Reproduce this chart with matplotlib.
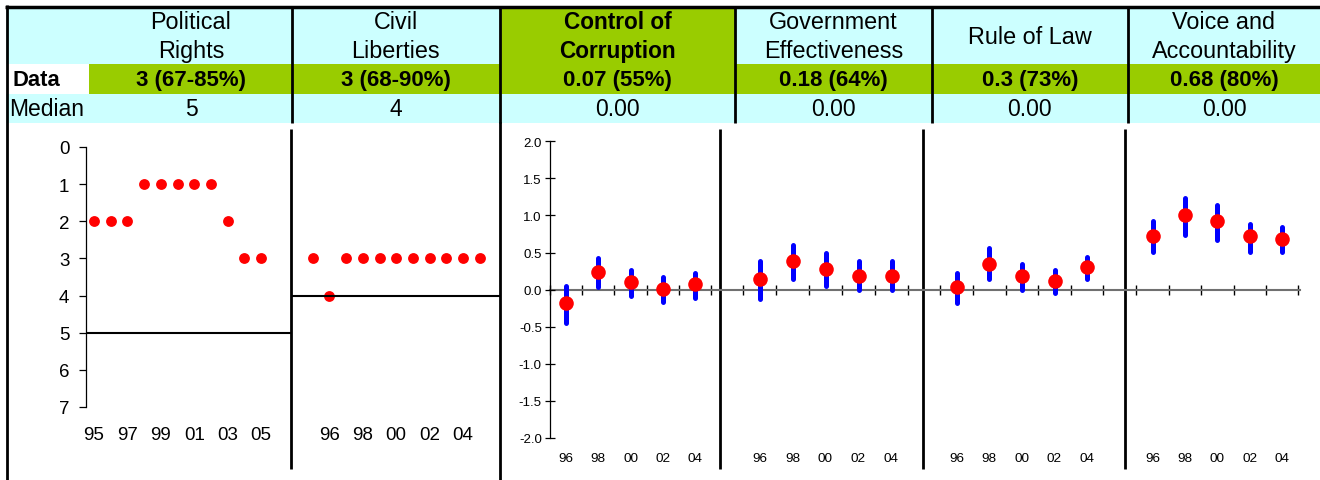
import matplotlib.pyplot as plt
from matplotlib.patches import Rectangle

plt.rcParams['font.family'] = ['Liberation Sans', 'DejaVu Sans']

W, H = 1320, 481

# header table
indicators = ['Political\nRights', 'Civil\nLiberties', 'Control of\nCorruption',
              'Government\nEffectiveness', 'Rule of Law', 'Voice and\nAccountability']
data_labels = ['3 (67-85%)', '3 (68-90%)', '0.07 (55%)', '0.18 (64%)', '0.3 (73%)', '0.68 (80%)']
median_labels = ['5', '4', '0.00', '0.00', '0.00', '0.00']
highlighted = 'Control of\nCorruption'

# Freedom House scores (1 = best, 7 = worst)
fh_years = list(range(1995, 2006))
political_rights = [2, 2, 2, 1, 1, 1, 1, 1, 2, 3, 3]
civil_liberties = [3, 4, 3, 3, 3, 3, 3, 3, 3, 3, 3]
pr_median = 5
cl_median = 4

# governance indicators with confidence ranges
wgi_years = ['96', '98', '00', '02', '04']
cc_est = [-0.18, 0.24, 0.10, 0.01, 0.07]
cc_low = [-0.45, 0.03, -0.09, -0.17, -0.11]
cc_high = [0.05, 0.42, 0.26, 0.17, 0.22]
ge_est = [0.15, 0.38, 0.28, 0.19, 0.18]
ge_low = [-0.13, 0.14, 0.05, 0.00, 0.00]
ge_high = [0.38, 0.60, 0.49, 0.38, 0.38]
rl_est = [0.03, 0.35, 0.19, 0.12, 0.30]
rl_low = [-0.18, 0.14, 0.00, -0.05, 0.14]
rl_high = [0.22, 0.56, 0.35, 0.26, 0.44]
va_est = [0.72, 1.00, 0.93, 0.72, 0.68]
va_low = [0.51, 0.74, 0.67, 0.51, 0.51]
va_high = [0.93, 1.23, 1.14, 0.88, 0.84]

CYAN = '#CCFFFF'
GREEN = '#99CC00'
RED = '#FF0000'
BLUE = '#0000FF'

fig = plt.figure(figsize=(W / 100, H / 100), dpi=100)
bg = fig.add_axes([0, 0, 1, 1])
bg.set_xlim(0, W)
bg.set_ylim(H, 0)
bg.axis('off')


def px_axes(l, t, r, b):
    ax = fig.add_axes([l / W, 1 - b / H, (r - l) / W, (b - t) / H])
    ax.patch.set_alpha(0)
    return ax


# --- table ---
col_edges = [6, 291.5, 500, 735, 931.5, 1128, 1320]
centers = [191] + [(col_edges[i] + col_edges[i + 1]) / 2 for i in range(1, 6)]
bg.add_patch(Rectangle((6, 9), W - 6, 56, color=CYAN, lw=0))
bg.add_patch(Rectangle((89, 65), W - 89, 29.5, color=GREEN, lw=0))
bg.add_patch(Rectangle((6, 94.5), W - 6, 29, color=CYAN, lw=0))
for i, name in enumerate(indicators):
    bold = name == highlighted
    if bold:
        bg.add_patch(Rectangle((col_edges[i], 9), col_edges[i + 1] - col_edges[i], 56,
                               color=GREEN, lw=0))
    bg.text(centers[i], 37, name, ha='center', va='center', fontsize=16.3 if bold else 16.8,
            fontweight='bold' if bold else 'normal', linespacing=1.3)
    bg.text(centers[i], 80.5, data_labels[i], ha='center', va='center', fontsize=16,
            fontweight='bold')
    bg.text(centers[i], 109.5, median_labels[i], ha='center', va='center', fontsize=16.5)
bg.text(12, 80.5, 'Data', ha='left', va='center', fontsize=15.8, fontweight='bold')
bg.text(9, 109.5, 'Median', ha='left', va='center', fontsize=16.5)

bg.vlines(col_edges[1:-1], 9, 123.5, color='black', lw=2)
bg.hlines(7.5, 5, W, color='black', lw=2.5)
bg.vlines(6.5, 6, H, color='black', lw=2)
bg.vlines(500, 123, H, color='black', lw=2)
bg.vlines([291, 720, 922.5, 1125], 130, 470, color='black', lw=2)

# --- Freedom House panels ---
fh_top, fh_bottom = 148, 408
step = 16.7
fh_panels = [
    (86, 291, 94, political_rights, pr_median, fh_years[::2]),
    (291, 500, 312.7, civil_liberties, cl_median, fh_years[1::2]),
]
for k, (l, r, x0, scores, med, ticks) in enumerate(fh_panels):
    ax = px_axes(l, fh_top, r, fh_bottom)
    ax.set_xlim(fh_years[0] - (x0 - l) / step, fh_years[0] + (r - x0) / step)
    ax.set_ylim(7, 0)
    ax.plot(fh_years, scores, 'o', color=RED, ms=7.8, mec='none', clip_on=False)
    ax.axhline(med, color='black', lw=1.5)
    for s in ax.spines.values():
        s.set_visible(False)
    ax.set_xticks(ticks, ['%02d' % (y % 100) for y in ticks])
    ax.tick_params(axis='x', length=0, pad=14, labelsize=13.5)
    if k == 0:
        ax.spines['left'].set_visible(True)
        ax.spines['left'].set_linewidth(0.9)
        ax.set_yticks(range(8))
        ax.tick_params(axis='y', direction='out', length=5, width=0.9, pad=7, labelsize=13.5)
    else:
        ax.set_yticks([])

# --- governance panels ---
wgi_series = [(cc_est, cc_low, cc_high), (ge_est, ge_low, ge_high),
              (rl_est, rl_low, rl_high), (va_est, va_low, va_high)]
wgi_geom = [(549.5, 720, 566, 32.3), (720, 922.5, 759.5, 33),
            (922.5, 1125, 956.7, 32.6), (1125, 1300, 1152.5, 32.4)]
xs = list(range(len(wgi_years)))
bounds = [i - 0.5 for i in range(len(wgi_years) + 1)]
for k, ((est, lo, hi), (l, r, x0, st)) in enumerate(zip(wgi_series, wgi_geom)):
    ax = px_axes(l, 142.3, r, 439)
    ax.set_xlim((l - x0) / st, (r - x0) / st)
    ax.set_ylim(-2, 2)
    ax.vlines(xs, lo, hi, color=BLUE, lw=3.6, capstyle='round', zorder=3)
    ax.plot(xs, est, 'o', color=RED, ms=10.5, mec='none', zorder=4)
    for s in ax.spines.values():
        s.set_visible(False)
    ax.set_xticks(xs, wgi_years)
    ax.tick_params(axis='x', length=0, pad=10, labelsize=9.7)
    sec = ax.secondary_xaxis(0.5)
    sec.set_xticks(bounds, [])
    sec.tick_params(direction='inout', length=7, width=1, color='black')
    for s in sec.spines.values():
        s.set_color('#707070')
        s.set_linewidth(1.5)
    if k == 0:
        ax.spines['left'].set_visible(True)
        ax.spines['left'].set_linewidth(0.9)
        yt = [-2 + 0.5 * i for i in range(9)]
        ax.set_yticks(yt, ['%.1f' % v for v in yt])
        ax.tick_params(axis='y', direction='inout', length=7, width=0.9, pad=2, labelsize=9.5)
    else:
        ax.set_yticks([])

fig.savefig('out.png', dpi=100)
